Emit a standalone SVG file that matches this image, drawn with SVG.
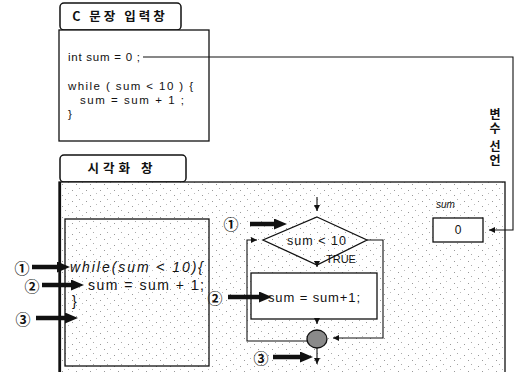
<svg xmlns="http://www.w3.org/2000/svg" width="516" height="372" viewBox="0 0 516 372">
<defs>
<style>
.frame{fill:#fff;stroke:#111;stroke-width:1.3}
.grain{fill:url(#grain);stroke:#111;stroke-width:1.3}
.tab{fill:#fff;stroke:#111;stroke-width:1.5}
.ko{font-family:"Noto Sans CJK KR","Noto Sans",sans-serif;font-weight:bold;fill:#111}
.code{font-family:"Liberation Sans",Arial,sans-serif;fill:#111}
.num{font-family:"Noto Sans CJK KR","DejaVu Sans",sans-serif;font-size:15px;font-weight:bold;fill:#111;text-anchor:middle;dominant-baseline:central}
.thin{fill:none;stroke:#111;stroke-width:1.1}
.thick{fill:none;stroke:#111;stroke-width:4.5;marker-end:url(#bighead)}
</style>
<pattern id="grain" width="14" height="11" patternUnits="userSpaceOnUse">
<rect width="14" height="11" fill="#fff"/>
<rect x="2" y="3" width="1" height="1" fill="#999"/>
<rect x="9" y="1" width="1" height="1" fill="#aaa"/>
<rect x="6" y="8" width="1" height="1" fill="#999"/>
<rect x="12" y="6" width="1" height="1" fill="#bbb"/>
</pattern>
<marker id="bighead" viewBox="0 0 13 11" refX="6" refY="5.5" markerWidth="13" markerHeight="11" markerUnits="userSpaceOnUse" orient="auto"><path d="M0,0 L13,5.5 L0,11 z" fill="#111"/></marker>
<marker id="head" viewBox="0 0 6 6" refX="6" refY="3" markerWidth="6" markerHeight="6" markerUnits="userSpaceOnUse" orient="auto"><path d="M0,0 L6,3 L0,6 z" fill="#111"/></marker>
</defs>
<rect width="516" height="372" fill="#fff"/>

<g id="input-tab">
<rect class="tab" x="60" y="3" width="121" height="27" rx="4"/>
<text class="ko" x="120" y="21" font-size="12.5" text-anchor="middle" letter-spacing="3">C 문장 입력창</text>
</g>
<g id="input-window">
<rect class="frame" x="59" y="30" width="150" height="111"/>
<text class="code" font-size="11.5"><tspan x="68" y="61" textLength="72" lengthAdjust="spacing">int sum = 0 ;</tspan><tspan x="68" y="90" textLength="125" lengthAdjust="spacing">while ( sum &lt; 10 ) {</tspan><tspan x="80" y="104" textLength="104" lengthAdjust="spacing">sum = sum + 1 ;</tspan><tspan x="68" y="118">}</tspan></text>
</g>

<g id="viz-tab">
<rect class="tab" x="60" y="155" width="126" height="27" rx="4"/>
<text class="ko" x="122" y="173" font-size="12.5" text-anchor="middle" letter-spacing="4">시각화 창</text>
</g>
<g id="viz-window">
<rect class="grain" x="59" y="182" width="446" height="200"/>
<line x1="60" y1="182" x2="60" y2="372" stroke="#111" stroke-width="2.2"/>
</g>

<g id="code-box">
<rect class="grain" x="65" y="219" width="144" height="147" stroke-width="1.6"/>
<text class="code" font-size="14"><tspan x="70" y="272" font-style="italic" textLength="133" lengthAdjust="spacing">while(sum &lt; 10){</tspan><tspan x="88" y="290" textLength="116" lengthAdjust="spacing">sum = sum + 1;</tspan><tspan x="72" y="306">}</tspan></text>
</g>

<g id="decision">
<polygon class="grain" points="317,217 367,240 317,265 263,240"/>
<text class="code" x="287" y="245" font-size="12.5" textLength="59" lengthAdjust="spacing">sum &lt; 10</text>
</g>
<text class="code" x="326" y="263" font-size="11" fill="#444">TRUE</text>

<g id="body">
<rect class="frame" x="251" y="273" width="126" height="46"/>
<text class="code" x="268" y="302" font-size="13" textLength="92" lengthAdjust="spacing">sum = sum+1;</text>
</g>

<g id="join">
<ellipse cx="317" cy="339" rx="10" ry="9" fill="#8a8a8a" stroke="#111" stroke-width="1.3"/>
</g>

<g id="sum-var">
<text class="code" x="436" y="208" font-size="10" font-style="italic" fill="#555">sum</text>
<rect class="frame" x="433" y="218" width="50" height="24"/>
<text class="code" x="458" y="234" font-size="12" text-anchor="middle">0</text>
</g>

<g id="declare-label">
<text class="ko" x="495" y="108" font-size="12" letter-spacing="2" style="writing-mode:vertical-rl">변수 선언</text>
</g>

<g id="connectors">
<polyline class="thin" points="143,57 513,57 513,230 489,230" marker-end="url(#head)"/>
<line class="thin" x1="317" y1="197" x2="317" y2="211" marker-end="url(#head)"/>
<line class="thin" x1="317" y1="265" x2="317" y2="267" marker-end="url(#head)"/>
<line class="thin" x1="317" y1="319" x2="317" y2="324" marker-end="url(#head)"/>
<line class="thin" x1="317" y1="348" x2="317" y2="364" marker-end="url(#head)"/>
<polyline class="thin" points="307,341 247,341 247,240 257,240" marker-end="url(#head)"/>
<polyline class="thin" points="367,240 383,240 383,338 333,338" marker-end="url(#head)"/>

<line class="thick" x1="32" y1="267" x2="63" y2="267"/>
<line class="thick" x1="42" y1="285" x2="77" y2="285"/>
<line class="thick" x1="36" y1="318" x2="71" y2="318"/>
<line class="thick" x1="250" y1="224" x2="280" y2="224"/>
<line class="thick" x1="228" y1="297" x2="265" y2="297"/>
<line class="thick" x1="273" y1="357" x2="306" y2="357"/>
</g>

<g id="step-labels">
<text class="num" x="22" y="267">①</text>
<text class="num" x="32" y="285">②</text>
<text class="num" x="23" y="318">③</text>
<text class="num" x="231" y="223">①</text>
<text class="num" x="215" y="297">②</text>
<text class="num" x="261" y="357">③</text>
</g>
</svg>
